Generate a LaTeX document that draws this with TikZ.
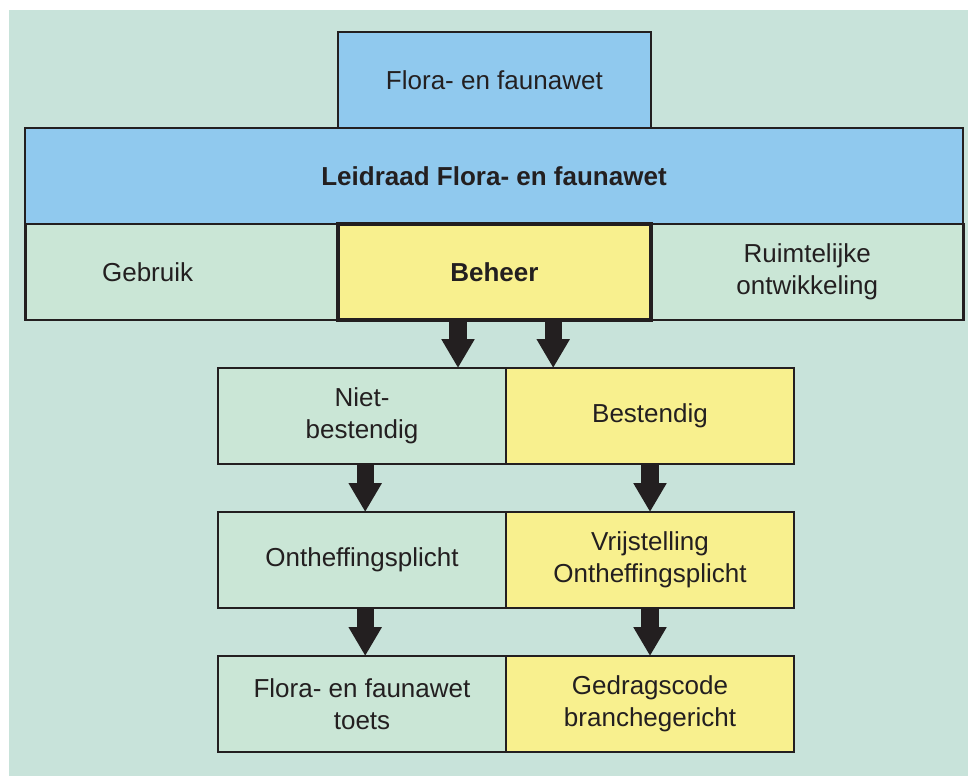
\documentclass[tikz,border=0pt]{standalone}
\usepackage{fontspec}
\setmainfont{Liberation Sans}
\usetikzlibrary{arrows.meta}
\definecolor{bgteal}{HTML}{C8E3DA}
\definecolor{boxgreen}{HTML}{CAE6D6}
\definecolor{boxblue}{HTML}{90C9EE}
\definecolor{boxyellow}{HTML}{F8F08E}
\definecolor{inkdark}{HTML}{231F20}
\begin{document}
\begin{tikzpicture}[every node/.style={align=center, font=\fontsize{18.5}{22.5}\selectfont, text=inkdark}]
\tikzset{
  box/.style={draw=inkdark, line width=2pt, fill=boxgreen, inner sep=0pt, outer sep=0pt, minimum width=7.825cm, minimum height=2.4cm},
  smallbox/.style={box, minimum width=7.2cm},
  bigarrow/.style={draw=inkdark, line width=0.43cm, -{Triangle[width=0.78cm, length=0.72cm]}}
}
\useasboundingbox (0,0) rectangle (24.2,-19.4);
\fill[bgteal] (0.225,-0.25) rectangle (24.2,-19.4);

\node[box, fill=boxblue] (fwet) at (12.36,-2.0) {Flora- en faunawet};
\node[box, fill=boxblue, minimum width=23.45cm] (leidraad) at (12.35,-4.4) {\textbf{Leidraad Flora- en faunawet}};
\node[box] (gebruik) at (4.54,-6.8) {Gebruik\hspace*{1.7cm}};
\node[box, minimum width=7.8cm] (ruimte) at (20.18,-6.8) {Ruimtelijke\\ontwikkeling};
\node[box, fill=boxyellow, line width=3.2pt] (beheer) at (12.36,-6.8) {\textbf{Beheer}};

\node[smallbox] (niet) at (9.05,-10.4) {Niet-\\bestendig};
\node[smallbox, fill=boxyellow] (best) at (16.25,-10.4) {Bestendig};
\node[smallbox] (onth) at (9.05,-14.0) {Ontheffingsplicht};
\node[smallbox, fill=boxyellow] (vrij) at (16.25,-14.0) {Vrijstelling\\Ontheffingsplicht};
\node[smallbox] (toets) at (9.05,-17.6) {Flora- en faunawet\\toets};
\node[smallbox, fill=boxyellow] (code) at (16.25,-17.6) {Gedragscode\\branchegericht};

\draw[bigarrow] ([xshift=-0.91cm]beheer.south) -- ([xshift=-0.91cm]beheer.south |- niet.north);
\draw[bigarrow] ([xshift=1.47cm]beheer.south) -- ([xshift=1.47cm]beheer.south |- best.north);
\draw[bigarrow] ([xshift=0.08cm]niet.south) -- ([xshift=0.08cm]onth.north);
\draw[bigarrow] (best.south) -- (vrij.north);
\draw[bigarrow] ([xshift=0.08cm]onth.south) -- ([xshift=0.08cm]toets.north);
\draw[bigarrow] (vrij.south) -- (code.north);
\end{tikzpicture}
\end{document}
